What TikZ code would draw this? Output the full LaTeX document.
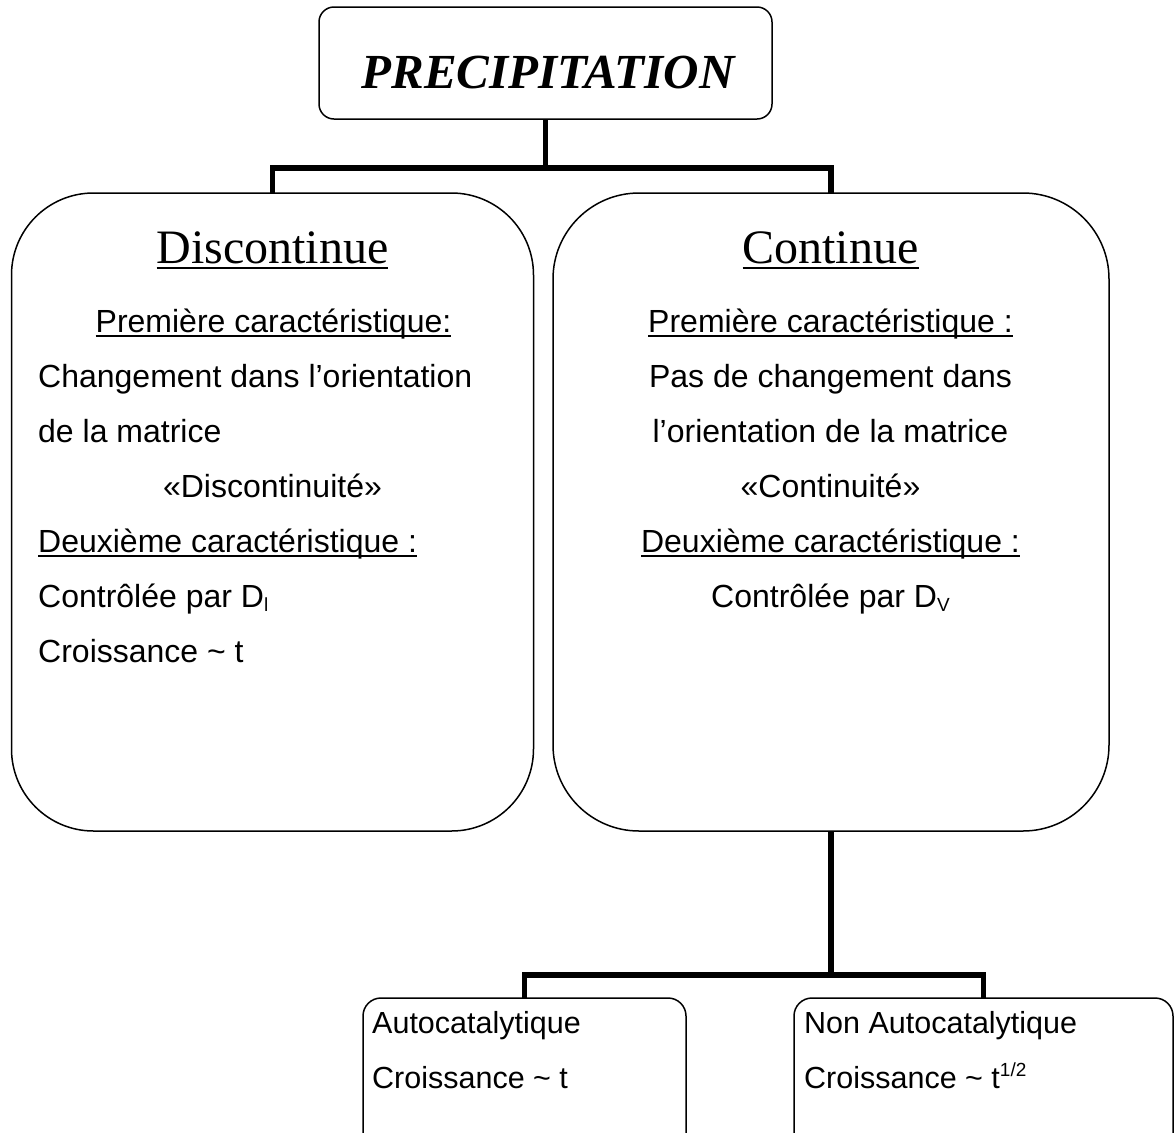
\documentclass[tikz,border=0pt]{standalone}
\usepackage{fontspec}
\setmainfont{Liberation Sans}
\newfontfamily\titlefont{Liberation Serif}
\newcommand\myul[2][5pt]{\setbox0\hbox{#2}\rlap{\rule[-#1]{\wd0}{2pt}}\box0}
\newcommand\mysub[1]{\raisebox{-4pt}{\fontsize{19}{19}\selectfont #1}}
\newcommand\mysup[1]{\raisebox{12pt}{\fontsize{19}{19}\selectfont #1}}
\begin{document}
\begin{tikzpicture}[x=1pt,y=-1pt,
  box/.style={draw, line width=1.5pt, inner sep=0, outer sep=0},
  conn/.style={line width=5.5pt},
  body/.style={font=\fontsize{32}{38}\selectfont, inner sep=0},
  bodysm/.style={font=\fontsize{30.5}{36}\selectfont, inner sep=0},
  ttl/.style={font=\titlefont\fontsize{48}{56}\selectfont, inner sep=0}]
\useasboundingbox (0,0) rectangle (1176,1133);
\clip (0,0) rectangle (1176,1133);
% boxes
\node[box, rounded corners=15pt, minimum width=453pt, minimum height=112pt] (top) at (545.5,63) {};
\node[box, rounded corners=82pt, minimum width=522pt, minimum height=638pt] (disc) at (272.5,512) {};
\node[box, rounded corners=86pt, minimum width=556pt, minimum height=638pt] (cont) at (831,512) {};
\node[box, rounded corners=18pt, minimum width=323pt, minimum height=160pt] (auto) at (524.5,1078) {};
\node[box, rounded corners=18pt, minimum width=379pt, minimum height=160pt] (nonauto) at (983.5,1078) {};
% connectors
\coordinate (bar1) at (545.5,168);
\coordinate (bar2) at (831,975);
\draw[conn] (top.south) -- (bar1);
\draw[conn] (disc.north) |- (bar1) -| (cont.north);
\draw[conn] (cont.south) -- (bar2);
\draw[conn] (auto.north) |- (bar2) -| (nonauto.north);
% title
\node[anchor=base, inner sep=0, font=\titlefont\bfseries\itshape\fontsize{49}{56}\selectfont] (ttop) at (548,88) {PRECIPITATION};
% left box texts
\node[ttl, anchor=base] (tdisc) at (272.5,263) {\myul[6pt]{Discontinue}};
\node[body, anchor=base] (d1) at (273.5,332) {\myul{Première caractéristique:}};
\node[body, anchor=base west] (d2) at (38,387) {Changement dans l’orientation};
\node[body, anchor=base west] (d3) at (38,442) {de la matrice};
\node[body, anchor=base] (d4) at (272.5,497) {«Discontinuité»};
\node[body, anchor=base west] (d5) at (38,552) {\myul{Deuxième caractéristique :}};
\node[body, anchor=base west] (d6) at (38,607) {Contrôlée par D\mysub{l}};
\node[body, anchor=base west] (d7) at (38,662) {Croissance \textasciitilde{} t};
% right box texts
\node[ttl, anchor=base] (tcont) at (830.5,263) {\myul[6pt]{Continue}};
\node[body, anchor=base] (c1) at (830.5,332) {\myul{Première caractéristique :}};
\node[body, anchor=base] (c2) at (830.5,387) {Pas de changement dans};
\node[body, anchor=base] (c3) at (830.5,442) {l’orientation de la matrice};
\node[body, anchor=base] (c4) at (830.5,497) {«Continuité»};
\node[body, anchor=base] (c5) at (830.5,552) {\myul{Deuxième caractéristique :}};
\node[body, anchor=base] (c6) at (830.5,607) {Contrôlée par D\mysub{V}};
% bottom boxes texts
\node[bodysm, anchor=base west] (a1) at (372,1033) {Autocatalytique};
\node[bodysm, anchor=base west] (a2) at (372,1088) {Croissance \textasciitilde{} t};
\node[bodysm, anchor=base west] (n1) at (804,1033) {Non Autocatalytique};
\node[bodysm, anchor=base west] (n2) at (804,1088) {Croissance \textasciitilde{} t\mysup{1/2}};
\end{tikzpicture}
\end{document}
